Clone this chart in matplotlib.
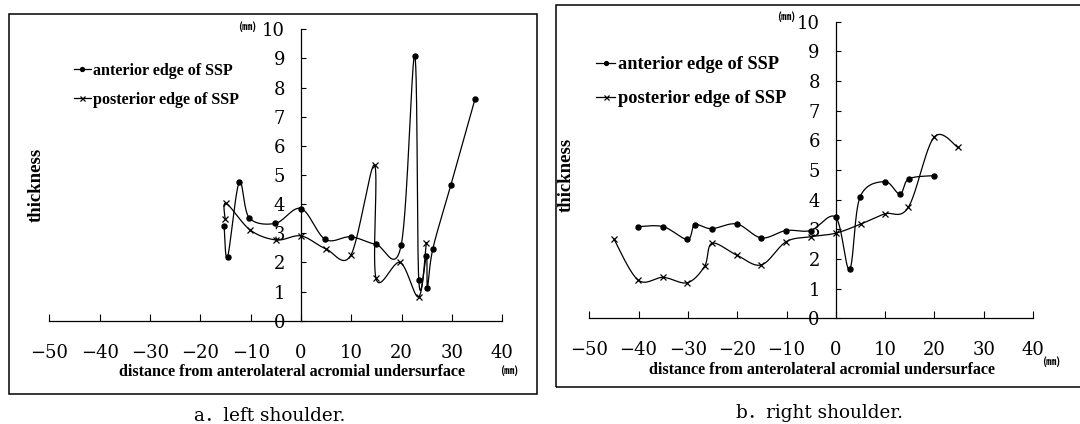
import matplotlib
matplotlib.use("Agg")
import matplotlib.pyplot as plt
from matplotlib.patches import Rectangle
import numpy as np

# left shoulder
left_ant_x = [-15.3, -14.6, -12.3, -10.3, -5.1, 0, 4.8, 9.9, 14.9, 19.9, 22.6, 23.4, 24.9, 25.1, 26.2, 29.8, 34.6]
left_ant_y = [3.25, 2.19, 4.75, 3.53, 3.34, 3.85, 2.79, 2.88, 2.62, 2.59, 9.09, 1.39, 2.22, 1.13, 2.47, 4.67, 7.62]
left_post_x = [-15.1, -14.9, -10.1, -4.9, 0, 4.9, 9.9, 14.6, 14.9, 19.7, 23.4, 24.9]
left_post_y = [3.48, 4.03, 3.11, 2.77, 2.91, 2.47, 2.25, 5.34, 1.45, 2.0, 0.82, 2.68]

# right shoulder
right_ant_x = [-40.2, -35, -30.1, -28.6, -25.2, -20.1, -15.1, -10.1, -5.1, 0, 2.8, 4.9, 9.9, 13, 14.8, 19.9]
right_ant_y = [3.09, 3.09, 2.66, 3.15, 3.02, 3.18, 2.71, 2.96, 2.96, 3.40, 1.65, 4.08, 4.61, 4.19, 4.70, 4.81]
right_post_x = [-45, -40.1, -35, -30.1, -26.6, -25.1, -20.1, -15.1, -10.1, -5.1, 0, 5.1, 9.9, 14.7, 19.9, 24.8]
right_post_y = [2.67, 1.29, 1.38, 1.20, 1.76, 2.53, 2.13, 1.80, 2.58, 2.75, 2.87, 3.18, 3.52, 3.74, 6.10, 5.76]

x_ticks = [-50, -40, -30, -20, -10, 0, 10, 20, 30, 40]
y_ticks = list(range(0, 11))
labels = ["anterior edge of SSP", "posterior edge of SSP"]
xlabel = "distance from anterolateral acromial undersurface"
ylabel = "thickness"
unit = "(㎜)"

W, H = 1080, 424


def fx(p):
    return p / W


def fy(p):
    return 1 - p / H


def smooth(xs, ys, n=30):
    # excel-like smoothed line (catmull-rom as cubic bezier)
    p = np.column_stack([xs, ys]).astype(float)
    out = [p[0]]
    t = np.linspace(0, 1, n)[1:, None]
    for i in range(len(p) - 1):
        p0 = p[i - 1] if i > 0 else p[i]
        p3 = p[i + 2] if i + 2 < len(p) else p[i + 1]
        c1 = p[i] + (p[i + 1] - p0) / 6
        c2 = p[i + 1] - (p3 - p[i]) / 6
        seg = ((1 - t) ** 3) * p[i] + 3 * ((1 - t) ** 2) * t * c1 \
            + 3 * (1 - t) * t ** 2 * c2 + t ** 3 * p[i + 1]
        out.extend(seg)
    out = np.array(out)
    return out[:, 0], out[:, 1]


fig = plt.figure(figsize=(W / 100, H / 100), dpi=100)

serif = "DejaVu Serif"
bold = "Liberation Serif"
cjk = ["Noto Sans CJK JP", "DejaVu Sans"]

panels = [
    dict(rect=[fx(49.5), fy(320.7), 452.8 / W, 291.4 / H],
         ant=(left_ant_x, left_ant_y), post=(left_post_x, left_post_y),
         frame=(9.3, 13.5, 536.7, 394), leg=(74, 63, 11.6, 0.8),
         xl=(292, 371.7), yl=(36, 185), ut=(247, 26.7), ub=(509, 370.7),
         cap=("a．left shoulder.", 270, 416)),
    dict(rect=[fx(589.3), fy(318.3), 443.7 / W, 296.6 / H],
         ant=(right_ant_x, right_ant_y), post=(right_post_x, right_post_y),
         frame=(555.5, 5, 1090, 386.7), leg=(596, 56, 13.2, 0.95),
         xl=(822, 370), yl=(566, 175), ut=(786, 16.7), ub=(1051, 362),
         cap=("b．right shoulder.", 819, 413)),
]

for pn in panels:
    ax = fig.add_axes(pn["rect"])
    ax.set_xlim(-50, 40)
    ax.set_ylim(0, 10)
    ax.patch.set_visible(False)

    ax_x, ax_y = pn["ant"]
    sx, sy = smooth(ax_x, ax_y)
    ax.plot(sx, sy, color="black", lw=0.9, clip_on=False)
    ax.plot(ax_x, ax_y, "o", color="black", ms=3.6, clip_on=False)
    px_, py_ = pn["post"]
    sx, sy = smooth(px_, py_)
    ax.plot(sx, sy, color="black", lw=0.9, clip_on=False)
    ax.plot(px_, py_, "x", color="black", ms=4.2, mew=0.9, clip_on=False)

    # legend proxies
    h1, = ax.plot([], [], "-o", color="black", lw=0.9, ms=2.8)
    h2, = ax.plot([], [], "-x", color="black", lw=0.9, ms=3.6, mew=0.9)
    lx, ly, lfs, lsp = pn["leg"]
    ax.legend([h1, h2], labels, loc="upper left",
              bbox_to_anchor=(fx(lx), fy(ly)), bbox_transform=fig.transFigure,
              frameon=False, borderpad=0, borderaxespad=0, handlelength=1.05,
              handletextpad=0.15, labelspacing=lsp,
              prop=dict(family=bold, weight="bold", size=lfs))

    for s in ["top", "right"]:
        ax.spines[s].set_visible(False)
    ax.spines["left"].set_position(("data", 0))
    ax.spines["left"].set_linewidth(0.9)
    ax.spines["bottom"].set_linewidth(0.9)

    ax.set_xticks(x_ticks)
    ax.set_yticks(y_ticks)
    ax.tick_params(axis="x", direction="in", length=5, width=0.8, pad=16.5,
                   labelsize=13)
    ax.tick_params(axis="y", direction="in", length=3.6, width=0.8, pad=11.5,
                   labelsize=13)
    for t in ax.get_xticklabels() + ax.get_yticklabels():
        t.set_family(serif)

    ax.set_xlabel(xlabel, family=bold, weight="bold", size=11.6, va="center")
    ax.xaxis.set_label_coords(fx(pn["xl"][0]), fy(pn["xl"][1]), transform=fig.transFigure)
    ax.set_ylabel(ylabel, family=bold, weight="bold", size=13.5, va="center")
    ax.yaxis.set_label_coords(fx(pn["yl"][0]), fy(pn["yl"][1]), transform=fig.transFigure)

    fig.text(fx(pn["ut"][0]), fy(pn["ut"][1]), unit, family=cjk, weight="bold",
             size=7.5, ha="center", va="center")
    fig.text(fx(pn["ub"][0]), fy(pn["ub"][1]), unit, family=cjk, weight="bold",
             size=7.5, ha="center", va="center")

    cap, cx, cy = pn["cap"]
    fig.text(fx(cx), fy(cy), cap, family=[serif, "Noto Sans CJK JP"], size=13.2,
             ha="center", va="center")

    x0, y0, x1, y1 = pn["frame"]
    fig.patches.append(Rectangle((fx(x0), fy(y1)), (x1 - x0) / W, (y1 - y0) / H,
                                 transform=fig.transFigure, fill=False,
                                 edgecolor="black", lw=1.1))

fig.savefig("out.png", dpi=100)
